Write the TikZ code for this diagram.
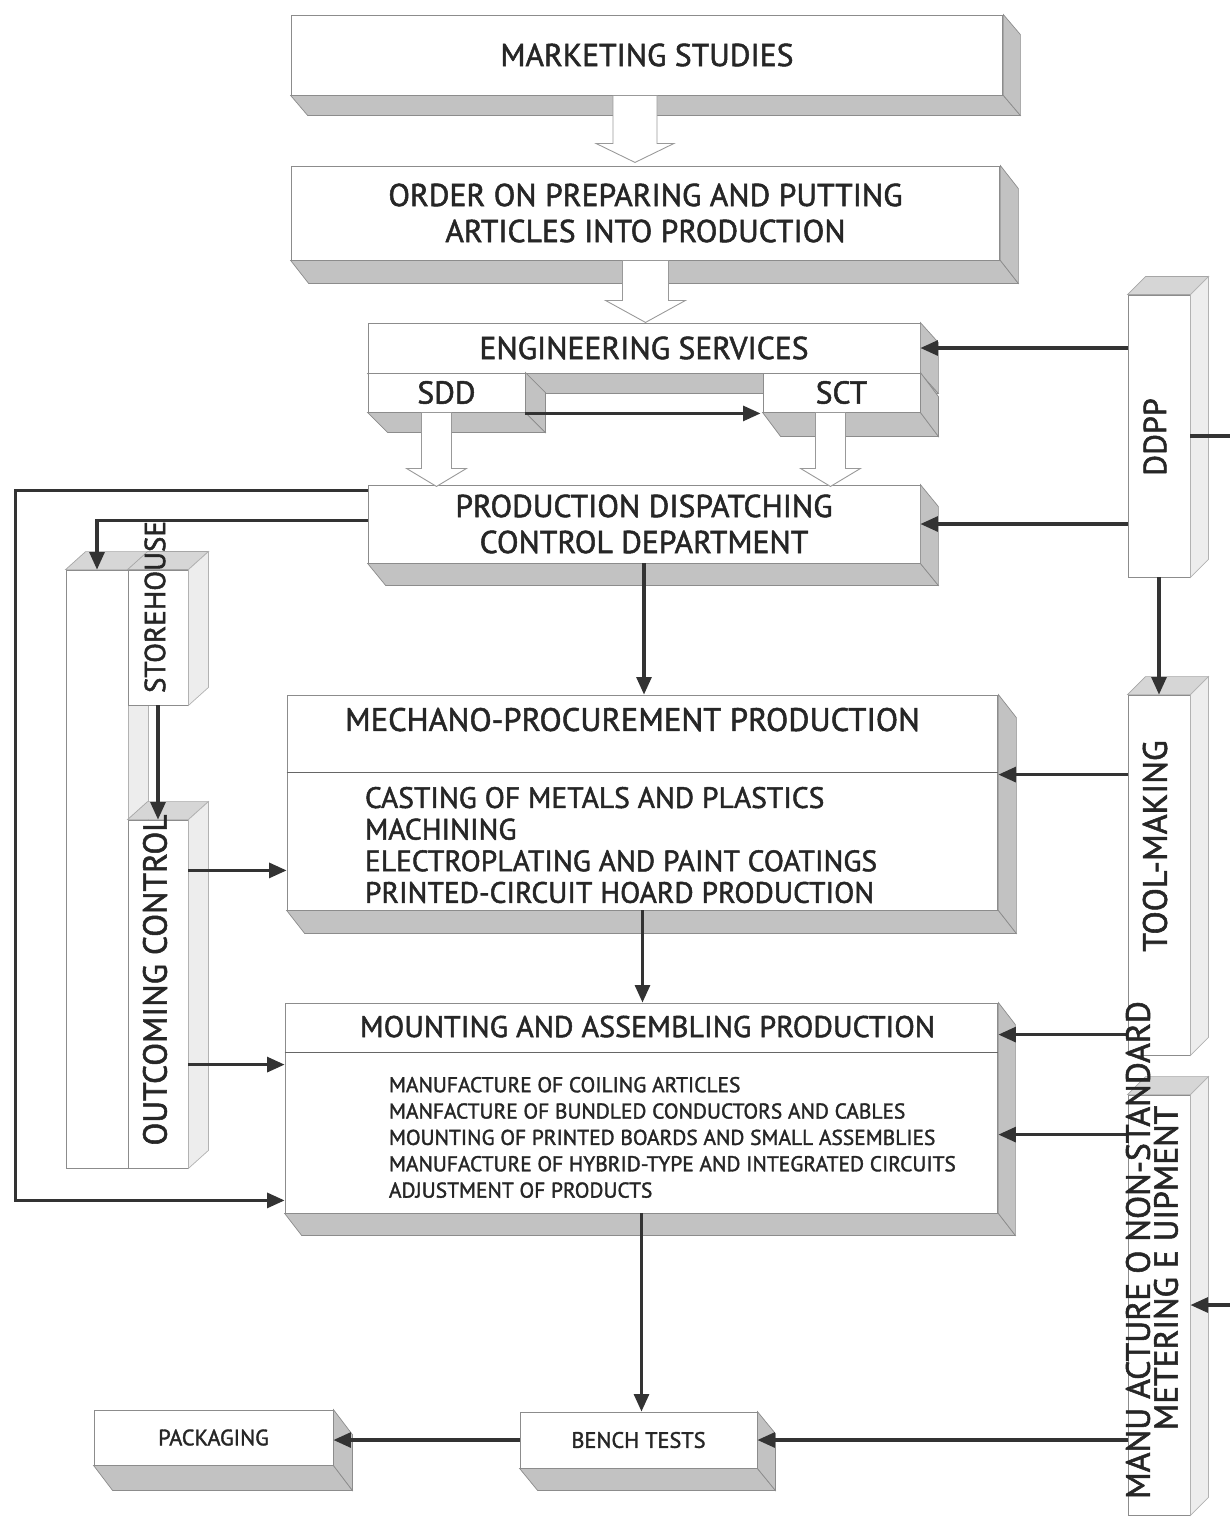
\documentclass[tikz,border=0pt]{standalone}
\usepackage{fontspec}
\setmainfont{PT Sans}[FakeBold=1.6]
\usetikzlibrary{calc,arrows.meta}

\newcommand{\labfont}{\fontsize{18}{20.5}\selectfont}
\newcommand{\titlefont}{\fontsize{18.5}{20}\selectfont}
\newcommand{\midfont}{\fontsize{16.8}{18}\selectfont}
\newcommand{\mountfont}{\fontsize{17.1}{18}\selectfont}
\newcommand{\smallfont}{\fontsize{12.2}{15}\selectfont}
\newcommand{\benchfont}{\fontsize{12.7}{14}\selectfont}

\tikzset{
  box/.style={draw=black!45, fill=white, line width=0.5pt, inner sep=0pt, text=black!85, align=center},
  face/.style={fill=black!24, draw=black!45, line width=0.4pt},
  topface/.style={fill=black!16, draw=black!35, line width=0.4pt},
  lightface/.style={fill=black!7, draw=black!30, line width=0.4pt},
  hollow/.style={fill=white, draw=black!40, line width=0.5pt},
  arr/.style={draw=black!80, line width=1.8pt, -{Triangle[length=10pt,width=8.5pt]}},
  lab/.style={text=black!85, inner sep=0pt, align=center},
}

% node, dx, dy : faces below and right of a front face
\newcommand{\downfaces}[3]{%
  \filldraw[face] (#1.south west) -- (#1.south east) -- ++(#2,#3) -- ($(#1.south west)+(#2,#3)$) -- cycle;
  \filldraw[face] (#1.north east) -- ++(#2,#3) -- ($(#1.south east)+(#2,#3)$) -- (#1.south east) -- cycle;}
% node, dx, dy : faces above and right of a front face
\newcommand{\upfaces}[3]{%
  \filldraw[topface] (#1.north west) -- ++(#2,#3) -- ($(#1.north east)+(#2,#3)$) -- (#1.north east) -- cycle;
  \filldraw[lightface] (#1.north east) -- ++(#2,#3) -- ($(#1.south east)+(#2,#3)$) -- (#1.south east) -- cycle;}
% top point, shaft length, shaft half width, head half width, head length
\newcommand{\fatarrow}[5]{%
  \filldraw[hollow] #1 ++(-#3,0) -- ++(0,#2) -- ++(#3-#4,0) -- ++(#4,#5) -- ++(#4,-#5) -- ++(#3-#4,0) -- ++(0,-#2) -- cycle;}

\begin{document}
\begin{tikzpicture}[x=0.02cm, y=-0.02cm]
\useasboundingbox (0,0) rectangle (1230,1519);
\clip (0,0) rectangle (1230,1519);

\node[box, minimum width=14.24cm, minimum height=1.6cm, font=\labfont] (mkt) at (647,55) {MARKETING STUDIES};
\downfaces{mkt}{17}{20}
\node[box, minimum width=14.18cm, minimum height=1.88cm, font=\labfont] (order) at (645.5,213)
  {ORDER ON PREPARING AND PUTTING\\ARTICLES INTO PRODUCTION};
\downfaces{order}{18}{23}

\node[box, minimum width=11.04cm, minimum height=1.0cm, font=\labfont] (eng) at (644,348) {ENGINEERING SERVICES};
\downfaces{eng}{18}{20}
\node[box, minimum width=3.14cm, minimum height=0.78cm, font=\labfont] (sdd) at (446.5,392.5) {SDD};
\downfaces{sdd}{20}{20}
\node[box, minimum width=3.14cm, minimum height=0.78cm, font=\labfont] (sct) at (841.5,392.5) {SCT};
\downfaces{sct}{18}{24}

\node[box, minimum width=11.04cm, minimum height=1.56cm, font=\labfont] (pdcd) at (644,524)
  {PRODUCTION DISPATCHING\\CONTROL DEPARTMENT};
\downfaces{pdcd}{18}{22}

\node[box, minimum width=14.22cm, minimum height=4.3cm] (mech) at (642.5,802.5) {};
\downfaces{mech}{18}{23}
\node[box, minimum width=14.26cm, minimum height=4.2cm] (mount) at (641.5,1108) {};
\downfaces{mount}{17}{22}

\node[box, minimum width=4.74cm, minimum height=1.12cm, font=\benchfont] (bench) at (638.5,1440) {BENCH TESTS};
\downfaces{bench}{18}{22}
\node[box, minimum width=4.78cm, minimum height=1.1cm, font=\benchfont] (pack) at (213.5,1437.5) {PACKAGING};
\downfaces{pack}{19}{25}

\node[box, minimum width=1.24cm, minimum height=5.64cm] (ddpp) at (1159,436) {};
\upfaces{ddpp}{18}{-18}
\node[box, minimum width=1.24cm, minimum height=7.2cm] (tool) at (1159,875) {};
\upfaces{tool}{18}{-18}
\node[box, minimum width=1.24cm, minimum height=8.4cm] (meter) at (1159,1305) {};
\upfaces{meter}{18}{-18}

\node[box, minimum width=1.24cm, minimum height=11.96cm] (back) at (97,869) {};
\upfaces{back}{20}{-18}
\node[box, minimum width=1.2cm, minimum height=2.7cm] (store) at (158,637.5) {};
\upfaces{store}{20}{-18}
\node[box, minimum width=1.2cm, minimum height=6.96cm] (outc) at (158,994) {};
\upfaces{outc}{20}{-18}

\fatarrow{($(mkt.south)+(-12,0)$)}{48}{22}{39}{19}
\fatarrow{(order.south)}{40}{23}{40}{22}
\fatarrow{($(sdd.south)+(-10,0)$)}{56}{15}{30}{18}
\fatarrow{($(sct.south)+(-11,0)$)}{56}{15}{30}{18}

\draw[black!60, line width=0.8pt] ($(mech.north west)+(0,78)$) -- ($(mech.north east)+(0,78)$);
\draw[black!60, line width=0.8pt] ($(mount.north west)+(0,50)$) -- ($(mount.north east)+(0,50)$);

\node[lab, font=\titlefont] at ($(mech.north)+(-10,25)$) {MECHANO-PROCUREMENT PRODUCTION};
\node[lab, font=\midfont, anchor=north west, align=left] at ($(mech.north west)+(78,92)$)
  {CASTING OF METALS AND PLASTICS\\MACHINING\\ELECTROPLATING AND PAINT COATINGS\\PRINTED-CIRCUIT HOARD PRODUCTION};
\node[lab, font=\mountfont] at ($(mount.north)+(6,24)$) {MOUNTING AND ASSEMBLING PRODUCTION};
\node[lab, font=\smallfont, anchor=north west, align=left] at ($(mount.north west)+(104,74)$)
  {MANUFACTURE OF COILING ARTICLES\\MANFACTURE OF BUNDLED CONDUCTORS AND CABLES\\MOUNTING OF PRINTED BOARDS AND SMALL ASSEMBLIES\\MANUFACTURE OF HYBRID-TYPE AND INTEGRATED CIRCUITS\\ADJUSTMENT OF PRODUCTS};

\coordinate (m1) at ($(mech.south west)+(0,-40)$);
\coordinate (m2) at ($(mount.north west)+(0,62)$);
\coordinate (m3) at ($(mech.north east)+(0,80)$);
\coordinate (m4) at ($(mount.north east)+(0,32)$);
\coordinate (m5) at ($(mount.north east)+(0,132)$);

\draw[arr] ($(sdd.south east)+(0,1)$) -- ($(sct.south west)+(-2,1)$);
\draw[arr] (ddpp.west |- eng.east) -- (eng.east);
\draw[arr] (ddpp.west |- pdcd.east) -- (pdcd.east);
\draw[arr] (ddpp.south) -- (tool.north);
\draw[arr] (ddpp.east) -- ++(50,0) |- (meter.east);
\draw[arr] (tool.west |- m3) -- (m3);
\draw[arr] (tool.west |- m4) -- (m4);
\draw[arr] (meter.west |- m5) -- (m5);
\draw[arr] (meter.west |- bench.east) -- (bench.east);
\draw[arr] (pdcd.south) -- (pdcd.south |- mech.north);
\draw[arr] (mech.south) -- (mech.south |- mount.north);
\draw[arr] (mount.south) -- (mount.south |- bench.north);
\draw[arr] (bench.west) -- (pack.east |- bench.west);
\draw[arr] ($(pdcd.north west)+(0,6)$) -- ++(-352,0) |- ($(mount.south west)+(0,-13)$);
\draw[arr] ($(pdcd.north west)+(0,36)$) -| (back.north);
\draw[arr] (store.south) -- (outc.north);
\draw[arr] (outc.east |- m1) -- (m1);
\draw[arr] (outc.east |- m2) -- (m2);

\node[lab, font=\fontsize{16.5}{18}\selectfont, rotate=90] at (155,607) {STOREHOUSE};
\node[lab, font=\fontsize{19}{20}\selectfont, rotate=90] at (155,980) {OUTCOMING CONTROL};
\node[lab, font=\fontsize{18.2}{20}\selectfont, rotate=90] at (1155,437) {DDPP};
\node[lab, font=\fontsize{19.3}{20}\selectfont, rotate=90] at (1155,846) {TOOL-MAKING};
\node[lab, font=\fontsize{19.2}{20}\selectfont, rotate=90] at (1138,1250) {MANU ACTURE O NON-STANDARD};
\node[lab, font=\fontsize{19}{20}\selectfont, rotate=90] at (1166,1268) {METERING E UIPMENT};
\end{tikzpicture}
\end{document}
